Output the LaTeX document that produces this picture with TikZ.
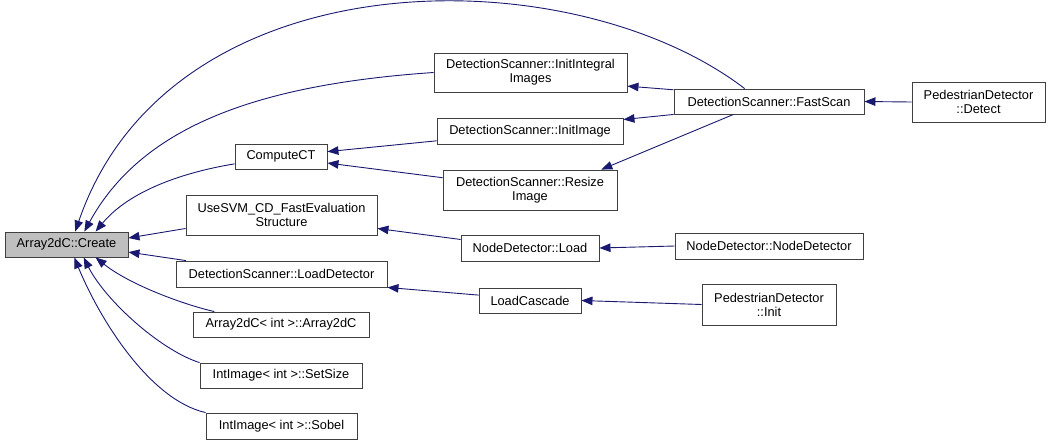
\documentclass[tikz,border=0pt]{standalone}
\usepackage{fontspec}
\setmainfont{Liberation Sans}
\usetikzlibrary{arrows.meta}
\definecolor{midblue}{HTML}{191970}
\begin{document}
\begin{tikzpicture}[x=1pt,y=-1pt]
		\tikzstyle{fn}=[draw=black!75, line width=0.9pt, fill=white, inner sep=0pt, align=center, font=\fontsize{12.8}{14}\selectfont]
		\tikzstyle{call}=[draw=midblue, line width=0.9pt, -{Triangle[length=11pt,width=8.5pt]}]
		\useasboundingbox (0,0) rectangle (1051,445);

		% callee on the left
		\node[fn, fill=black!25, minimum width=123, minimum height=25] (create) at (66.5,244.5) {Array2dC::Create};

		\begin{scope}
			\node[fn, minimum width=92, minimum height=25] (computect) at (281,156.5) {ComputeCT};
			\node[fn, minimum width=191, minimum height=40] (usesvm) at (281.5,215) {UseSVM\_CD\_FastEvaluation\\Structure};
			\node[fn, minimum width=211, minimum height=26] (loaddet) at (281.5,274) {DetectionScanner::LoadDetector};
			\node[fn, minimum width=176, minimum height=25] (arrint) at (281,324.5) {Array2dC< int >::Array2dC};
			\node[fn, minimum width=162, minimum height=25] (setsize) at (281,375.5) {IntImage< int >::SetSize};
			\node[fn, minimum width=151, minimum height=26] (sobel) at (281.5,426) {IntImage< int >::Sobel};
		\end{scope}

		\begin{scope}
			\node[fn, minimum width=193, minimum height=39] (initint) at (530.5,72.5) {DetectionScanner::InitIntegral\\Images};
			\node[fn, minimum width=186, minimum height=26] (initimg) at (530,131) {DetectionScanner::InitImage};
			\node[fn, minimum width=174, minimum height=40] (resize) at (530,190) {DetectionScanner::Resize\\Image};
			\node[fn, minimum width=138, minimum height=26] (ndload) at (530,248) {NodeDetector::Load};
			\node[fn, minimum width=102, minimum height=25] (loadcasc) at (530,300.5) {LoadCascade};
		\end{scope}

		\begin{scope}
			\node[fn, minimum width=190, minimum height=25] (fastscan) at (769,101.5) {DetectionScanner::FastScan};
			\node[fn, minimum width=188, minimum height=26] (ndctor) at (769,246) {NodeDetector::NodeDetector};
			\node[fn, minimum width=134, minimum height=41] (pinit) at (769,304.5) {PedestrianDetector\\::Init};
			\node[fn, minimum width=133, minimum height=40] (detect) at (978.5,102) {PedestrianDetector\\::Detect};
		\end{scope}

		% calls into Create
		\draw[call] (fastscan.152) .. controls (570,-45) and (170,-45) .. (create.56);
		\draw[call] (initint.west) .. controls (250,85) and (140,130) .. (create.36);
		\draw[call] (computect.189) .. controls (185,172) and (130,190) .. (create.24);
		\draw[call] (usesvm.188) -- (create.6);
		\draw[call] (loaddet.172) -- (create.-7);
		\draw[call] (arrint.169) .. controls (185,305) and (130,285) .. (create.-24);
		\draw[call] (setsize.171) .. controls (160,350) and (105,300) .. (create.-37);
		\draw[call] (sobel.north west) .. controls (150,400) and (100,320) .. (create.-59);

		% the rest
		\draw[call] (initimg.186) -- (computect.6);
		\draw[call] (resize.172) -- (computect.-8);
		\draw[call] (fastscan.173) -- (initint.-8);
		\draw[call] (fastscan.south west) -- (initimg.7);
		\draw[call] (fastscan.200) -- (resize.16);
		\draw[call] (detect.west) -- (fastscan.east);
		\draw[call] (ndload.173) -- (usesvm.-8);
		\draw[call] (ndctor.west) -- (ndload.east);
		\draw[call] (loadcasc.174) -- (loaddet.south east);
		\draw[call] (pinit.west) -- (loadcasc.east);
	\end{tikzpicture}
\end{document}
